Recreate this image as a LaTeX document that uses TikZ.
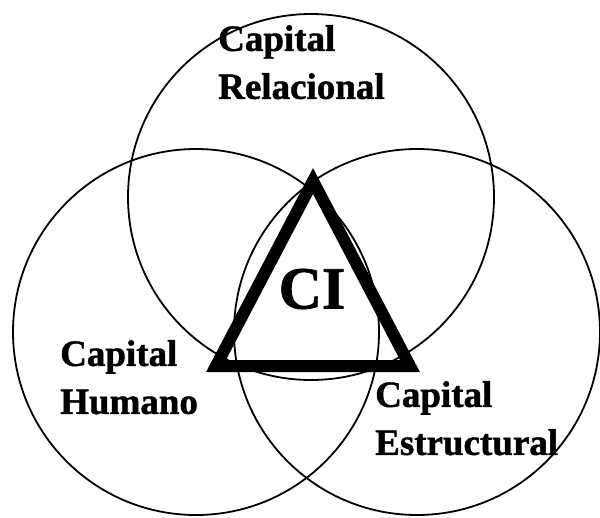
\documentclass[tikz,border=0pt]{standalone}
\usepackage{fontspec}
\setmainfont{Liberation Serif}[BoldFeatures={FakeBold=1.2}]
\usetikzlibrary{positioning}

\begin{document}
\begin{tikzpicture}[
    x=1pt, y=-1pt,
    venn/.style  ={circle, draw=black, line width=1.8pt, minimum size=366pt,
                   inner sep=0pt},
    tri/.style   ={draw=black, line width=12pt, line join=miter},
    lbl/.style   ={font=\fontsize{37}{48}\selectfont\bfseries, align=left,
                   inner sep=0pt, anchor=north west},
    core/.style  ={font=\fontsize{60}{64}\selectfont\bfseries, inner sep=0pt},
]

\useasboundingbox (0,0) rectangle (600,517);

% ----------------------------------------------------------------------
%  three overlapping circles
% ----------------------------------------------------------------------
\node[venn] (relacional)  at (311,197) {};
\node[venn] (humano)      at (196,332) {};
\node[venn] (estructural) at (417,332) {};

% ----------------------------------------------------------------------
%  central triangle
% ----------------------------------------------------------------------
\coordinate (apex)  at (313,181);
\coordinate (left)  at (216,366);
\coordinate (right) at (410,366);
\draw[tri] (apex) -- (left) -- (right) -- cycle;

\node[core] (ci) at (312,289) {CI};

% ----------------------------------------------------------------------
%  labels
% ----------------------------------------------------------------------
\node[lbl] (lrel) at (218,25)  {Capital\\Relacional};
\node[lbl] (lhum) at (60,340)  {Capital\\Humano};
\node[lbl] (lest) at (375,381) {Capital\\Estructural};

\end{tikzpicture}
\end{document}
